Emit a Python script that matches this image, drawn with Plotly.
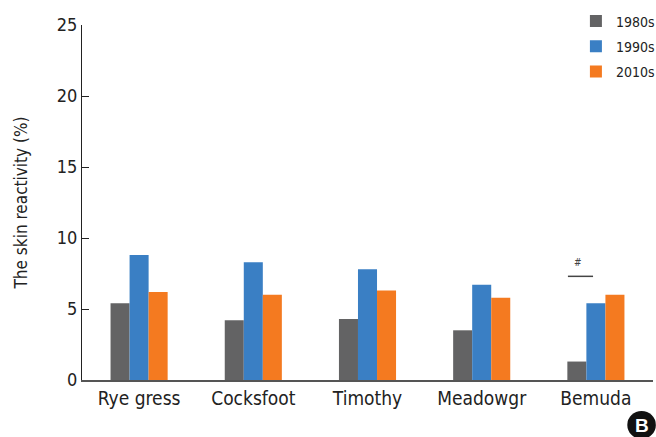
import plotly.graph_objects as go

# Grass pollen skin reactivity by decade
categories = ["Rye gress", "Cocksfoot", "Timothy", "Meadowgr", "Bemuda"]
decades = ["1980s", "1990s", "2010s"]
values_1980s = [5.4, 4.2, 4.3, 3.5, 1.3]
values_1990s = [8.8, 8.3, 7.8, 6.7, 5.4]
values_2010s = [6.2, 6.0, 6.3, 5.8, 6.0]
colors = ["#636364", "#3a7fc4", "#f47a20"]

y_ticks = [0, 5, 10, 15, 20, 25]
sig_marker = "#"
sig_level = 7.3

FONT = "DejaVu Sans Condensed, Roboto, sans-serif"

fig = go.Figure()
for name, vals, col in zip(decades, [values_1980s, values_1990s, values_2010s], colors):
    fig.add_trace(go.Bar(x=categories, y=vals, name=name, marker_color=col,
                         marker_line_width=0, legendgroup=name))

# significance bracket above the Bemuda 1980s/1990s pair
bemuda_idx = categories.index("Bemuda")
fig.add_shape(type="line", xref="x", yref="y",
              x0=bemuda_idx - 0.245, x1=bemuda_idx - 0.025,
              y0=sig_level, y1=sig_level,
              line=dict(color="#444444", width=1.5))
fig.add_annotation(x=bemuda_idx - 0.16, y=sig_level, xref="x", yref="y",
                   text=sig_marker, showarrow=False, yshift=14,
                   font=dict(size=10, color="#444444", family=FONT))

# panel label: black disc with a white letter
fig.add_shape(type="circle", xref="paper", yref="paper", layer="below",
              x0=0.955, x1=1.005, y0=-0.166, y1=-0.087,
              fillcolor="#111111", line=dict(width=0))
fig.add_annotation(x=0.98, y=-0.127, xref="paper", yref="paper",
                   xanchor="center", yanchor="middle",
                   text="<b>B</b>", showarrow=False,
                   font=dict(size=19, color="white", family="Liberation Sans, Arial"))

fig.update_layout(
    width=656, height=437,
    margin=dict(l=82, r=3, t=25, b=57, autoexpand=False),
    plot_bgcolor="white", paper_bgcolor="white",
    barmode="group", bargap=0.5, bargroupgap=0,
    font=dict(family=FONT, color="#222222"),
    showlegend=True,
    legend=dict(x=0.865, y=1.055, xanchor="left", yanchor="top",
                font=dict(size=14, family=FONT, color="#222222"),
                itemwidth=30, tracegroupgap=4, bgcolor="rgba(0,0,0,0)"),
)
fig.update_xaxes(showline=True, linecolor="#555555", linewidth=2,
                 ticks="", tickfont=dict(size=19, family=FONT, color="#222222"),
                 ticklabelstandoff=0)
fig.update_yaxes(range=[0, 25], tickvals=y_ticks, showgrid=False, zeroline=False,
                 showline=True, linecolor="#222222", linewidth=1,
                 ticks="inside", ticklen=7, tickcolor="#222222",
                 tickfont=dict(size=18, family=FONT, color="#222222"),
                 title=dict(text="The skin reactivity (%)", standoff=24,
                            font=dict(size=17, family=FONT, color="#222222")))

fig.write_html("out.html")
